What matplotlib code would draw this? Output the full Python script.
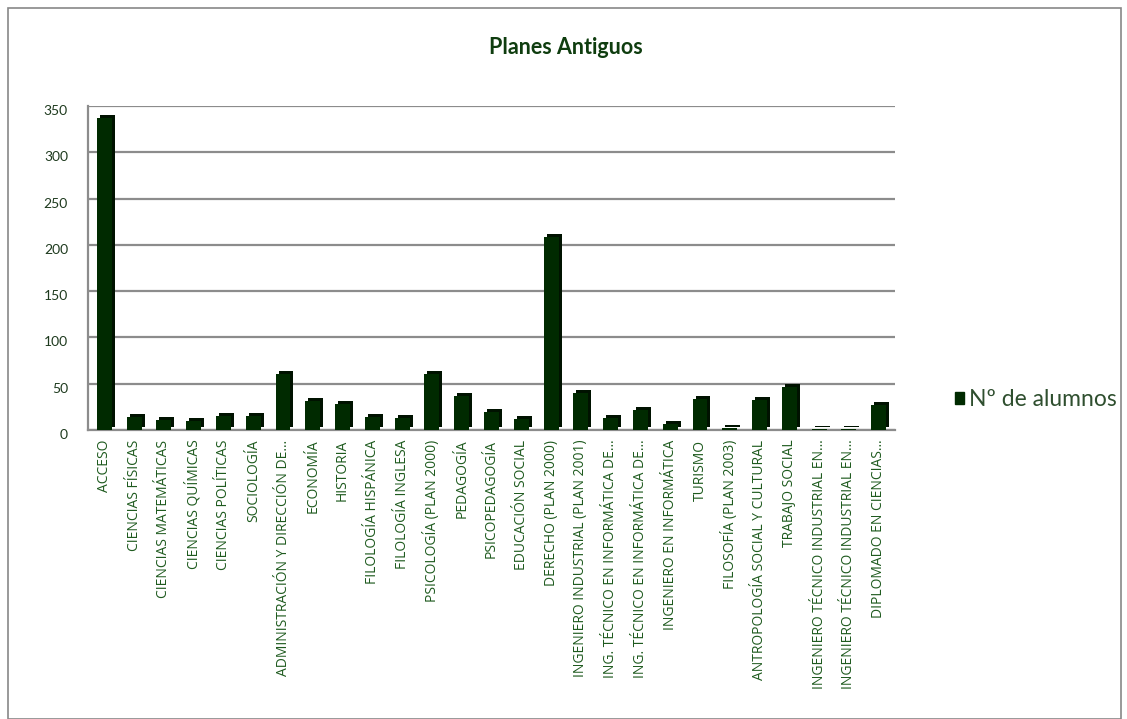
import matplotlib
matplotlib.use("Agg")
import matplotlib.pyplot as plt
import matplotlib.transforms as mtransforms
from matplotlib.patches import Rectangle, Patch

categories = [
    "ACCESO", "CIENCIAS FÍSICAS", "CIENCIAS MATEMÁTICAS", "CIENCIAS QUÍMICAS",
    "CIENCIAS POLÍTICAS", "SOCIOLOGÍA", "ADMINISTRACIÓN Y DIRECCIÓN DE…",
    "ECONOMÍA", "HISTORIA", "FILOLOGÍA HISPÁNICA", "FILOLOGÍA INGLESA",
    "PSICOLOGÍA (PLAN 2000)", "PEDAGOGÍA", "PSICOPEDAGOGÍA", "EDUCACIÓN SOCIAL",
    "DERECHO (PLAN 2000)", "INGENIERO INDUSTRIAL (PLAN 2001)",
    "ING. TÉCNICO EN INFORMÁTICA DE…", "ING. TÉCNICO EN INFORMÁTICA DE…",
    "INGENIERO EN INFORMÁTICA", "TURISMO", "FILOSOFÍA (PLAN 2003)",
    "ANTROPOLOGÍA SOCIAL Y CULTURAL", "TRABAJO SOCIAL",
    "INGENIERO TÉCNICO INDUSTRIAL EN…", "INGENIERO TÉCNICO INDUSTRIAL EN…",
    "DIPLOMADO EN CIENCIAS…",
]
alumnos = [337, 14, 11, 10, 15, 15, 60, 31, 28, 14, 13, 61, 37, 19, 12,
           208, 40, 13, 22, 7, 33, 2, 32, 46, 1, 1, 27]
series_name = "Nº de alumnos"
title = "Planes Antiguos"
yticks = [0, 50, 100, 150, 200, 250, 300, 350]

W, H = 1127, 719
fig = plt.figure(figsize=(W / 100, H / 100), dpi=100)
fig.patch.set_facecolor("white")
fig.patches.append(Rectangle((8 / W, 0), (1121 - 8) / W, (H - 8) / H,
                             transform=fig.transFigure, fill=False,
                             edgecolor="#878787", linewidth=1.2))

ax = fig.add_axes([88 / W, 1 - 430 / H, (895 - 88) / W, (430 - 106) / H])
ax.set_facecolor("none")

bar_color = "#002a00"
side_color = "#001200"
x = list(range(len(categories)))

# pseudo-3D depth: shifted darker copy behind each bar
offset = mtransforms.offset_copy(ax.transData, fig=fig, x=3, y=3, units="dots")
ax.bar(x, alumnos, width=0.5, color=side_color, transform=offset, zorder=2)
ax.bar(x, alumnos, width=0.5, color=bar_color, zorder=3)

ax.set_xlim(-0.55, len(categories) - 0.45)
ax.set_ylim(0, 350)
ax.set_yticks(yticks)
ax.set_yticklabels([])
# y tick labels on the "front" plane: slightly below the back-wall gridlines
ylab_tr = mtransforms.offset_copy(ax.get_yaxis_transform(), fig=fig,
                                  x=-20, y=-5, units="dots")
for v in yticks:
    ax.text(0, v, str(v), transform=ylab_tr, ha="right", va="center",
            fontsize=10, color="#1e3a1e", family="Lato")
ax.yaxis.grid(True, color="#8c8c8c", linewidth=1.6, zorder=0)
ax.set_axisbelow(True)
ax.tick_params(axis="y", length=0)
ax.tick_params(axis="x", length=0, pad=7)
for s in ["top", "right"]:
    ax.spines[s].set_visible(False)
ax.spines["left"].set_color("#8c8c8c")
ax.spines["left"].set_linewidth(1.6)
ax.spines["bottom"].set_color("#8c8c8c")
ax.spines["bottom"].set_linewidth(1.6)

ax.set_xticks(x)
ax.set_xticklabels(categories, rotation=90, fontsize=10, color="#1e5a1e",
                   family="Open Sans", ha="center", va="top")

fig.text(566 / W, 1 - 48 / H, title, ha="center", va="center",
         fontsize=15.5, fontweight="bold", color="#0f3d0f", family="Lato")

handles = [Patch(facecolor=bar_color, edgecolor=bar_color, label=series_name)]
fig.legend(handles=handles, loc="center left",
           bbox_to_anchor=(934 / W, 1 - 400 / H), frameon=False,
           handlelength=0.42, handleheight=0.42, handletextpad=0.22,
           labelcolor="#2f4f2f", prop={"family": "Lato", "size": 16.5})

fig.savefig("out.png", dpi=100, facecolor="white")
